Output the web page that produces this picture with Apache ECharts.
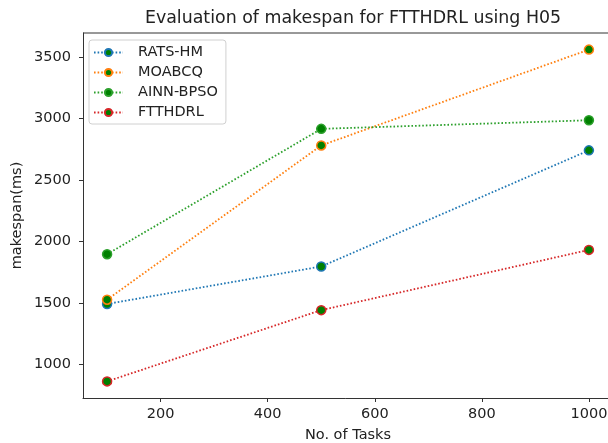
<!DOCTYPE html>
<html>
<head>
<meta charset="utf-8">
<script src="https://cdn.jsdelivr.net/npm/echarts@6/dist/echarts.min.js"></script>
<style>
  html, body { margin: 0; padding: 0; background: #fff; }
  #chart { width: 608px; height: 443px; }
</style>
</head>
<body>
<div id="chart"></div>
<script>
// Number of tasks on the x axis
const tasks = [100, 500, 1000];

// Makespan (ms) per algorithm
const ratsHm   = [1490, 1795, 2740];
const moabcq   = [1525, 2780, 3560];
const ainnBpso = [1895, 2915, 2985];
const ftthdrl  = [860, 1440, 1930];

const seriesNames = ['RATS-HM', 'MOABCQ', 'AINN-BPSO', 'FTTHDRL'];
const seriesValues = [ratsHm, moabcq, ainnBpso, ftthdrl];
const seriesColors = ['#1f77b4', '#ff7f0e', '#2ca02c', '#d62728'];

const xTicks = [200, 400, 600, 800, 1000];
const yTicks = [1000, 1500, 2000, 2500, 3000, 3500];

const font = 'DejaVu Sans';
const axisColor = '#333';
const textColor = '#222';

const chart = echarts.init(document.getElementById('chart'), null, { renderer: 'canvas' });

const series = seriesNames.map((name, i) => ({
  name: name,
  type: 'line',
  data: tasks.map((t, j) => [t, seriesValues[i][j]]),
  symbol: 'circle',
  symbolSize: 9,
  showSymbol: true,
  animation: false,
  z: 2 + i,
  lineStyle: { color: seriesColors[i], width: 1.8, type: [1.6, 2] },
  itemStyle: { color: '#008000', borderColor: seriesColors[i], borderWidth: 1.5 },
  emphasis: { disabled: true }
}));

const plain = v => String(v);

chart.setOption({
  backgroundColor: '#fff',
  animation: false,
  title: {
    text: 'Evaluation of makespan for FTTHDRL using H05',
    left: 348,
    textAlign: 'center',
    top: 5,
    textStyle: { fontFamily: font, fontSize: 17.4, fontWeight: 'normal', color: textColor }
  },
  legend: {
    left: 89,
    top: 40,
    orient: 'vertical',
    itemWidth: 29,
    itemHeight: 9,
    itemGap: 5,
    padding: [5, 8, 4, 4],
    backgroundColor: '#fff',
    borderColor: '#d0d0d0',
    borderWidth: 1,
    borderRadius: 3,
    textStyle: { fontFamily: font, fontSize: 14.5, color: textColor, padding: [0, 0, 0, 10] },
    data: seriesNames
  },
  grid: { left: 83, top: 33, width: 530, height: 365, containLabel: false, outerBoundsMode: 'none' },
  xAxis: {
    type: 'value',
    min: 55,
    max: 1045,
    name: 'No. of Tasks',
    nameLocation: 'middle',
    nameGap: 30,
    nameMoveOverlap: false,
    nameTextStyle: { fontFamily: font, fontSize: 14.5, color: textColor },
    splitLine: { show: false },
    axisLine: { show: true, onZero: false, lineStyle: { color: axisColor, width: 1 } },
    axisTick: { show: true, length: 4, lineStyle: { color: axisColor }, customValues: xTicks },
    axisLabel: { fontFamily: font, fontSize: 14.5, color: textColor, margin: 9, formatter: plain, customValues: xTicks }
  },
  yAxis: {
    type: 'value',
    min: 725,
    max: 3695,
    name: 'makespan(ms)',
    nameLocation: 'middle',
    nameGap: 58,
    nameMoveOverlap: false,
    nameRotate: 90,
    nameTextStyle: { fontFamily: font, fontSize: 14.5, color: textColor },
    splitLine: { show: false },
    axisLine: { show: true, onZero: false, lineStyle: { color: axisColor, width: 1 } },
    axisTick: { show: true, length: 4, lineStyle: { color: axisColor }, customValues: yTicks },
    axisLabel: { fontFamily: font, fontSize: 14.5, color: textColor, margin: 12, formatter: plain, customValues: yTicks }
  },
  series: series
});

// top spine of the plot frame
chart.setOption({
  graphic: [{
    type: 'line',
    shape: { x1: 83, y1: 33, x2: 613, y2: 33 },
    style: { stroke: axisColor, lineWidth: 1 },
    z: 10
  }]
});
</script>
</body>
</html>
